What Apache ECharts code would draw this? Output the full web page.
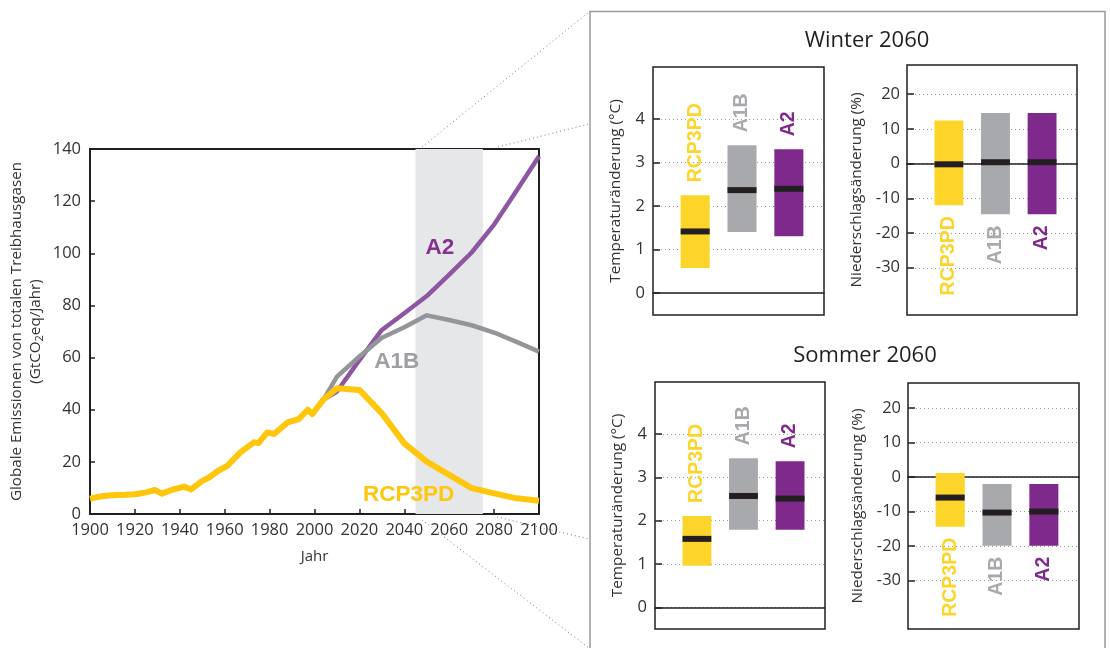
<!DOCTYPE html>
<html><head><meta charset="utf-8">
<script src="https://cdn.jsdelivr.net/npm/echarts@6/dist/echarts.min.js"></script>
<style>html,body{margin:0;padding:0;background:#fff}#c{width:1110px;height:648px}</style>
</head><body><div id="c"></div>
<script>
// ---------- Data ----------
const histYears  = [1900,1904,1907,1912,1916,1920,1925,1929,1932,1937,1942,1945,1950,1953,1957,1961,1967,1973,1975,1979,1982,1988,1993,1997,1999,2004];
const histValues = [5.9,6.6,7.0,7.3,7.4,7.6,8.3,9.2,7.8,9.4,10.5,9.4,12.7,14.0,16.5,18.4,23.6,27.5,27.2,31.3,30.7,35.1,36.4,40.0,38.3,43.9];
const scenYears  = [2010,2020,2030,2040,2050,2060,2070,2080,2090,2100];
const a2Values   = [47.0,59.0,70.6,77.0,83.6,91.8,100.3,111.0,124.0,137.2];
const a1bValues  = [52.7,60.4,67.6,71.6,76.2,74.4,72.4,69.6,66.0,62.3];
const rcpValues  = [48.2,47.6,38.6,27.1,20.1,15.0,9.9,7.9,6.0,5.1];

const categories = ['RCP3PD','A1B','A2'];
const catPos     = [1,2,3];
const winterTempLow    = [0.58,1.41,1.31];
const winterTempHigh   = [2.25,3.40,3.31];
const winterTempMedian = [1.42,2.37,2.40];
const winterPrecLow    = [-12.0,-14.6,-14.6];
const winterPrecHigh   = [12.4,14.6,14.6];
const winterPrecMedian = [-0.2,0.4,0.4];
const summerTempLow    = [0.96,1.79,1.79];
const summerTempHigh   = [2.11,3.44,3.37];
const summerTempMedian = [1.58,2.57,2.51];
const summerPrecLow    = [-14.4,-19.9,-19.9];
const summerPrecHigh   = [1.15,-2.0,-2.0];
const summerPrecMedian = [-5.96,-10.3,-10.0];
const tempTicks   = [0,1,2,3,4];
const precipTicks = [-30,-20,-10,0,10,20];

// ---------- Styles ----------
const FONT = '"Open Sans", "Noto Sans", sans-serif';
const BOLD = 'bold 19.5px "Liberation Sans", Arial, sans-serif';
const DARK = '#231f20';
const boxColors   = ['#FDD42A','#A7A9AC','#80298C'];
const labelColors = ['#FDD42A','#A7A9AC','#80298C'];
const BOX_W = 0.62;

function pairs(xs, ys){ return xs.map((x,i)=>[x, ys[i]]); }
const hist = pairs(histYears, histValues);

function boxSeries(g, low, high, med, above){
  return {
    type:'custom', xAxisIndex:g, yAxisIndex:g, z:3, silent:true,
    encode:{x:0, y:[1,2,3]},
    data: catPos.map((p,i)=>[p, low[i], high[i], med[i], i]),
    renderItem:(params, api)=>{
      const i = api.value(4), x = api.value(0);
      const pLo = api.coord([x, api.value(1)]);
      const pHi = api.coord([x, api.value(2)]);
      const pMd = api.coord([x, api.value(3)]);
      const w = api.size([BOX_W, 0])[0];
      return {type:'group', children:[
        {type:'rect', shape:{x:pHi[0]-w/2, y:pHi[1], width:w, height:pLo[1]-pHi[1]}, style:{fill:boxColors[i]}},
        {type:'rect', shape:{x:pMd[0]-w/2, y:pMd[1]-3, width:w, height:6}, style:{fill:DARK}},
        {type:'text', x:pHi[0], y: above ? pHi[1]-13 : pLo[1]+11, rotation:Math.PI/2,
          style:{text:categories[i], fill:labelColors[i], font:BOLD, align: above?'left':'right', verticalAlign:'middle'}}
      ]};
    }
  };
}

function tempY(g){
  return {type:'value', gridIndex:g, min:-0.5, max:5.2,
    axisLine:{show:false},
    axisTick:{show:true, inside:true, length:7, customValues:tempTicks, lineStyle:{color:DARK, width:1.5}},
    axisLabel:{customValues:tempTicks, fontSize:16.5, color:'#333', margin:8, fontFamily:FONT},
    splitLine:{show:true, lineStyle:{type:[1,3], color:'#9a9a9a', width:1}},
    name:'Temperaturänderung (°C)', nameLocation:'middle', nameGap:30,
    nameTextStyle:{fontSize:15.3, color:'#333', fontFamily:FONT}};
}
function precY(g, mn, mx){
  return {type:'value', gridIndex:g, min:mn, max:mx,
    axisLine:{show:false},
    axisTick:{show:true, inside:true, length:7, customValues:precipTicks, lineStyle:{color:DARK, width:1.5}},
    axisLabel:{customValues:precipTicks, fontSize:16.5, color:'#333', margin:7, fontFamily:FONT},
    splitLine:{show:true, lineStyle:{type:[1,3], color:'#9a9a9a', width:1}},
    name:'Niederschlagsänderung (%)', nameLocation:'middle', nameGap:43,
    nameTextStyle:{fontSize:15.3, color:'#333', fontFamily:FONT}};
}
function panelX(g){
  return {type:'value', gridIndex:g, min:0.1, max:3.75,
    axisLine:{show:true, onZero:true, lineStyle:{color:DARK, width:1.5}},
    axisTick:{show:false}, axisLabel:{show:false}, splitLine:{show:false}};
}

const gridBase = {show:true, borderColor:DARK, borderWidth:1.5, backgroundColor:'transparent', containLabel:false};

const option = {
  animation:false,
  textStyle:{fontFamily:FONT},
  grid:[
    Object.assign({}, gridBase, {left:90, top:149, width:449, height:365, borderWidth:2}),
    Object.assign({}, gridBase, {left:653, top:67, width:171, height:248}),
    Object.assign({}, gridBase, {left:907, top:65, width:170, height:250}),
    Object.assign({}, gridBase, {left:655, top:382, width:170, height:247}),
    Object.assign({}, gridBase, {left:908, top:383, width:171, height:246})
  ],
  xAxis:[
    {type:'value', gridIndex:0, min:1900, max:2100, interval:20,
      axisLine:{show:true, lineStyle:{color:DARK, width:2}},
      axisTick:{show:true, inside:true, length:5, lineStyle:{color:DARK, width:1.5}},
      axisLabel:{fontSize:16.5, color:'#333', margin:8, fontFamily:FONT, formatter:(v)=>String(v)},
      splitLine:{show:false},
      name:'Jahr', nameLocation:'middle', nameGap:35,
      nameTextStyle:{fontSize:15, color:'#333', fontFamily:FONT}},
    panelX(1), panelX(2), panelX(3), panelX(4)
  ],
  yAxis:[
    {type:'value', gridIndex:0, min:0, max:140, interval:20,
      axisLine:{show:true, lineStyle:{color:DARK, width:2}},
      axisTick:{show:true, inside:true, length:5, lineStyle:{color:DARK, width:1.5}},
      axisLabel:{fontSize:16.5, color:'#333', margin:9, fontFamily:FONT},
      splitLine:{show:false},
      name:'Globale Emissionen von totalen Treibhausgasen\n(GtCO{sub|2}eq/Jahr)',
      nameLocation:'middle', nameGap:45,
      nameTextStyle:{fontSize:15.2, color:'#333', fontFamily:FONT, lineHeight:19,
        rich:{sub:{fontSize:11, color:'#333', fontFamily:FONT, verticalAlign:'bottom', lineHeight:19}}}},
    tempY(1), precY(2,-43.6,28.4), tempY(3), precY(4,-44,27.2)
  ],
  graphic:[
    {type:'rect', z:-1, shape:{x:590, y:11.5, width:515, height:700}, style:{fill:'none', stroke:'#9a9a9a', lineWidth:1.5}},
    {type:'line', shape:{x1:422, y1:147, x2:589, y2:12}, style:{stroke:'#777', lineWidth:1, lineDash:[1,3]}},
    {type:'line', shape:{x1:498, y1:147, x2:589, y2:124}, style:{stroke:'#777', lineWidth:1, lineDash:[1,3]}},
    {type:'line', shape:{x1:422, y1:520, x2:589, y2:648}, style:{stroke:'#777', lineWidth:1, lineDash:[1,3]}},
    {type:'line', shape:{x1:497, y1:517, x2:589, y2:539}, style:{stroke:'#777', lineWidth:1, lineDash:[1,3]}},
    {type:'text', x:867, y:41, style:{text:'Winter 2060', font:'22px '+FONT, fill:DARK, align:'center', verticalAlign:'middle'}},
    {type:'text', x:865, y:356, style:{text:'Sommer 2060', font:'22px '+FONT, fill:DARK, align:'center', verticalAlign:'middle'}}
  ],
  series:[
    {type:'line', name:'band', xAxisIndex:0, yAxisIndex:0, data:[], z:1, silent:true,
      markArea:{silent:true, itemStyle:{color:'#E6E7E8'}, data:[[{xAxis:2045},{xAxis:2075}]]}},
    {type:'line', name:'A2', xAxisIndex:0, yAxisIndex:0, z:2, showSymbol:false, silent:true,
      data: hist.concat(pairs(scenYears, a2Values)),
      lineStyle:{color:'#8E55A2', width:4.5, join:'round'},
      markPoint:{symbol:'circle', symbolSize:0, silent:true,
        label:{show:true, position:'inside', formatter:'A2', color:'#86308F', fontWeight:'bold', fontSize:22.5, fontFamily:'"Liberation Sans", Arial, sans-serif'},
        data:[{coord:[2055.8,102]}]}},
    {type:'line', name:'A1B', xAxisIndex:0, yAxisIndex:0, z:3, showSymbol:false, silent:true,
      data: hist.concat(pairs(scenYears, a1bValues)),
      lineStyle:{color:'#939598', width:4.5, join:'round'},
      markPoint:{symbol:'circle', symbolSize:0, silent:true,
        label:{show:true, position:'inside', formatter:'A1B', color:'#9D9FA2', fontWeight:'bold', fontSize:22.5, fontFamily:'"Liberation Sans", Arial, sans-serif'},
        data:[{coord:[2036.6,58.3]}]}},
    {type:'line', name:'RCP3PD', xAxisIndex:0, yAxisIndex:0, z:4, showSymbol:false, silent:true,
      data: hist.concat(pairs(scenYears, rcpValues)),
      lineStyle:{color:'#FFC60B', width:6, join:'round'},
      markPoint:{symbol:'circle', symbolSize:0, silent:true,
        label:{show:true, position:'inside', formatter:'RCP3PD', color:'#FFC60B', fontWeight:'bold', fontSize:22.5, fontFamily:'"Liberation Sans", Arial, sans-serif'},
        data:[{coord:[2041.9,7.5]}]}},
    boxSeries(1, winterTempLow, winterTempHigh, winterTempMedian, true),
    boxSeries(2, winterPrecLow, winterPrecHigh, winterPrecMedian, false),
    boxSeries(3, summerTempLow, summerTempHigh, summerTempMedian, true),
    boxSeries(4, summerPrecLow, summerPrecHigh, summerPrecMedian, false)
  ]
};
const chart = echarts.init(document.getElementById('c'), null, {renderer:'canvas'});
chart.setOption(option);
</script></body></html>
